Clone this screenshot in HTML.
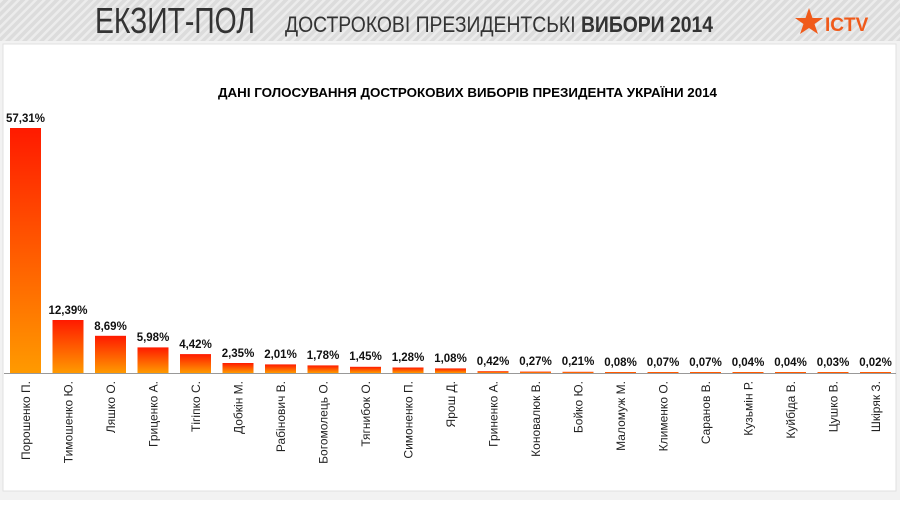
<!DOCTYPE html>
<html><head><meta charset="utf-8"><style>
body{margin:0;width:900px;height:500px;overflow:hidden;background:#fff;font-family:"Liberation Sans",sans-serif}
</style></head><body>
<svg width="900" height="500" xmlns="http://www.w3.org/2000/svg" font-family="Liberation Sans, sans-serif">
<defs>
<pattern id="h" width="6" height="6" patternUnits="userSpaceOnUse" patternTransform="rotate(-45)">
<rect width="6" height="6" fill="#dcdcdc"/><rect width="6" height="2.5" fill="#ececec"/></pattern>
<linearGradient id="g" x1="0" y1="0" x2="0" y2="1"><stop offset="0" stop-color="#ff1a00"/><stop offset="1" stop-color="#ff9a00"/></linearGradient>
</defs>
<rect width="900" height="500" fill="#f2f2f2"/>
<rect x="0" y="0" width="900" height="41" fill="url(#h)"/>
<rect x="3" y="44" width="893" height="447" fill="#fff" stroke="#e0e0e0"/>
<text x="95" y="33" font-size="36" fill="#333" textLength="160" lengthAdjust="spacingAndGlyphs">ЕКЗИТ-ПОЛ</text>
<text x="285" y="32" font-size="22" fill="#333" textLength="428" lengthAdjust="spacingAndGlyphs">ДОСТРОКОВІ ПРЕЗИДЕНТСЬКІ <tspan font-weight="bold">ВИБОРИ 2014</tspan></text>
<polygon points="809,8 812.5,18 823,18 814.5,24 818,34 809,28 800,34 803.5,24 795,18 805.5,18" fill="#f05a1a"/>
<text x="825" y="31" font-size="19" font-weight="bold" fill="#f05a1a">ICTV</text>
<text x="218" y="97" font-size="13" font-weight="bold" fill="#000" textLength="499" lengthAdjust="spacingAndGlyphs">ДАНІ ГОЛОСУВАННЯ ДОСТРОКОВИХ ВИБОРІВ ПРЕЗИДЕНТА УКРАЇНИ 2014</text>
<line x1="4" y1="373.5" x2="896" y2="373.5" stroke="#999"/>
<g fill="url(#g)">
<rect x="10" y="128" width="31" height="245"/>
<rect x="52.5" y="320" width="31" height="53"/>
<rect x="95" y="335.8" width="31" height="37.2"/>
<rect x="137.5" y="347.4" width="31" height="25.6"/>
<rect x="180" y="354.1" width="31" height="18.9"/>
<rect x="222.5" y="363" width="31" height="10"/>
<rect x="265" y="364.4" width="31" height="8.6"/>
<rect x="307.5" y="365.4" width="31" height="7.6"/>
<rect x="350" y="366.8" width="31" height="6.2"/>
<rect x="392.5" y="367.5" width="31" height="5.5"/>
<rect x="435" y="368.4" width="31" height="4.6"/>
<rect x="477.5" y="371.2" width="31" height="1.8"/>
<rect x="520" y="371.6" width="31" height="1.4"/>
<rect x="562.5" y="371.8" width="31" height="1.2"/>
<rect x="605" y="372" width="31" height="1"/>
<rect x="647.5" y="372" width="31" height="1"/>
<rect x="690" y="372" width="31" height="1"/>
<rect x="732.5" y="372" width="31" height="1"/>
<rect x="775" y="372" width="31" height="1"/>
<rect x="817.5" y="372" width="31" height="1"/>
<rect x="860" y="372" width="31" height="1"/>
</g>
<g font-size="11.5" font-weight="bold" text-anchor="middle" fill="#111">
<text x="25.5" y="122">57,31%</text>
<text x="68" y="314">12,39%</text>
<text x="110.5" y="330">8,69%</text>
<text x="153" y="341">5,98%</text>
<text x="195.5" y="348">4,42%</text>
<text x="238" y="357">2,35%</text>
<text x="280.5" y="358">2,01%</text>
<text x="323" y="359">1,78%</text>
<text x="365.5" y="360">1,45%</text>
<text x="408" y="361">1,28%</text>
<text x="450.5" y="362">1,08%</text>
<text x="493" y="365">0,42%</text>
<text x="535.5" y="365">0,27%</text>
<text x="578" y="365">0,21%</text>
<text x="620.5" y="366">0,08%</text>
<text x="663" y="366">0,07%</text>
<text x="705.5" y="366">0,07%</text>
<text x="748" y="366">0,04%</text>
<text x="790.5" y="366">0,04%</text>
<text x="833" y="366">0,03%</text>
<text x="875.5" y="366">0,02%</text>
</g>
<g font-size="12" text-anchor="end" fill="#222">
<text transform="translate(30,381) rotate(-90)">Порошенко П.</text>
<text transform="translate(72.5,381) rotate(-90)">Тимошенко Ю.</text>
<text transform="translate(115,381) rotate(-90)">Ляшко О.</text>
<text transform="translate(157.5,381) rotate(-90)">Гриценко А.</text>
<text transform="translate(200,381) rotate(-90)">Тігіпко С.</text>
<text transform="translate(242.5,381) rotate(-90)">Добкін М.</text>
<text transform="translate(285,381) rotate(-90)">Рабінович В.</text>
<text transform="translate(327.5,381) rotate(-90)">Богомолець О.</text>
<text transform="translate(370,381) rotate(-90)">Тягнибок О.</text>
<text transform="translate(412.5,381) rotate(-90)">Симоненко П.</text>
<text transform="translate(455,381) rotate(-90)">Ярош Д.</text>
<text transform="translate(497.5,381) rotate(-90)">Гриненко А.</text>
<text transform="translate(540,381) rotate(-90)">Коновалюк В.</text>
<text transform="translate(582.5,381) rotate(-90)">Бойко Ю.</text>
<text transform="translate(625,381) rotate(-90)">Маломуж М.</text>
<text transform="translate(667.5,381) rotate(-90)">Клименко О.</text>
<text transform="translate(710,381) rotate(-90)">Саранов В.</text>
<text transform="translate(752.5,381) rotate(-90)">Кузьмін Р.</text>
<text transform="translate(795,381) rotate(-90)">Куйбіда В.</text>
<text transform="translate(837.5,381) rotate(-90)">Цушко В.</text>
<text transform="translate(880,381) rotate(-90)">Шкіряк З.</text>
</g>
</svg>
</body></html>
